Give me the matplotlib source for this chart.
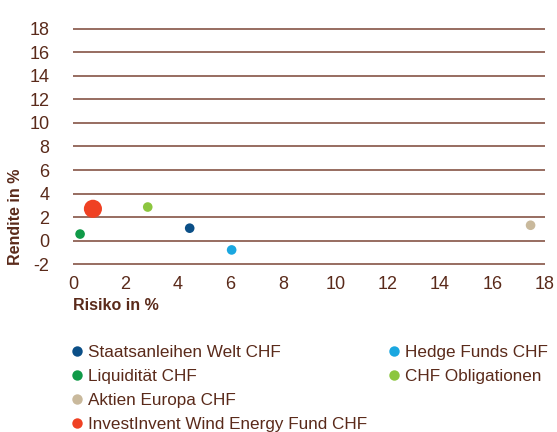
import matplotlib
matplotlib.use('Agg')
import matplotlib.pyplot as plt
from matplotlib.lines import Line2D

# Daten (Risiko / Rendite in %)
namen = ['Staatsanleihen Welt CHF', 'Liquidität CHF', 'Aktien Europa CHF',
         'InvestInvent Wind Energy Fund CHF', 'Hedge Funds CHF', 'CHF Obligationen']
risiko = [4.45, 0.27, 17.45, 0.76, 6.05, 2.85]
rendite = [1.05, 0.55, 1.3, 2.7, -0.8, 2.85]
farben = ['#0b4f87', '#109a48', '#c9b99c', '#ef4123', '#1aa7e0', '#8cc63f']
groessen = [48, 48, 48, 170, 48, 48]

x_ticks = [0, 2, 4, 6, 8, 10, 12, 14, 16, 18]
y_ticks = [-2, 0, 2, 4, 6, 8, 10, 12, 14, 16, 18]

braun = '#5a2a1a'
linie = '#7a4536'

plt.rcParams['font.family'] = ['Liberation Sans', 'DejaVu Sans']
plt.rcParams['axes.unicode_minus'] = False

fig = plt.figure(figsize=(5.57, 4.32), dpi=100)
ax = fig.add_axes([73 / 557, 1 - 265.2 / 432, 472 / 557, 237.4 / 432])

for xi, yi, c, s in zip(risiko, rendite, farben, groessen):
    ax.scatter(xi, yi, s=s, color=c, edgecolors='none', zorder=3)

ax.set_xlim(0, 18)
ax.set_ylim(-2.1, 18.1)
ax.set_xticks(x_ticks)
ax.set_yticks(y_ticks)
ax.tick_params(axis='both', length=0, labelsize=13, labelcolor=braun)
ax.tick_params(axis='x', pad=8)
ax.tick_params(axis='y', pad=17)
ax.grid(axis='y', color=linie, linewidth=1.1)
ax.set_axisbelow(True)
for sp in ax.spines.values():
    sp.set_visible(False)

fig.text(15.5 / 557, 1 - 217 / 432, 'Rendite in %', rotation=90, ha='center', va='center',
         fontsize=11.5, fontweight='bold', color=braun)
fig.text(73 / 557, 1 - 305 / 432, 'Risiko in %', ha='left', va='center',
         fontsize=11.5, fontweight='bold', color=braun)

# Legende in zwei Spalten
def handle(c):
    return Line2D([], [], marker='o', linestyle='none', markersize=7.5,
                  markerfacecolor=c, markeredgecolor='none')

links = [0, 1, 2, 3]
rechts = [4, 5]
for idx, xpos in [(links, 71), (rechts, 388)]:
    leg = fig.legend([handle(farben[i]) for i in idx], [namen[i] for i in idx],
                     loc='upper left', bbox_to_anchor=(xpos / 557, 1 - 345 / 432),
                     frameon=False, handlelength=0.65, handletextpad=0.35,
                     labelspacing=0.52, borderaxespad=0, borderpad=0,
                     prop={'size': 12.3})
    for t in leg.get_texts():
        t.set_color(braun)

plt.savefig('out.png', dpi=100)
